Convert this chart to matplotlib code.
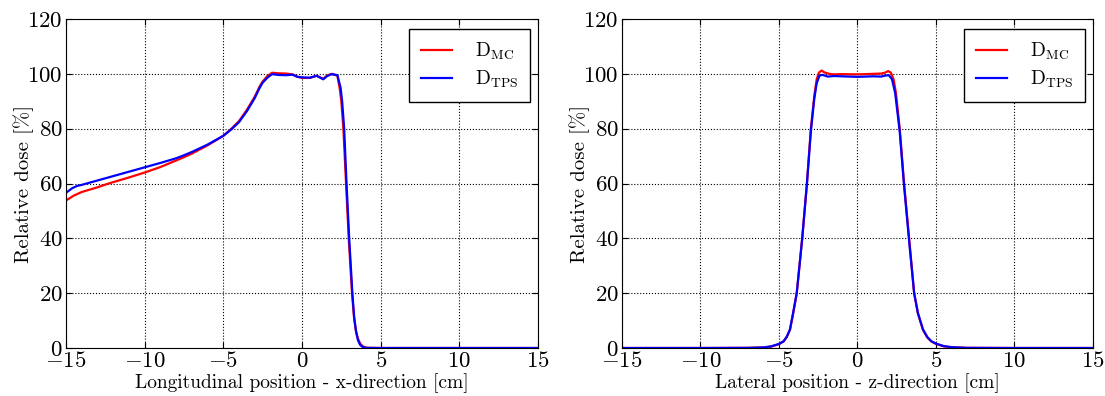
import matplotlib
matplotlib.use("Agg")
import matplotlib.pyplot as plt

# longitudinal profile (x-direction)
long_x_mc = [-15, -14.5, -14, -13, -12.5, -12, -11, -10, -9, -8, -7.5, -7, -6, -5, -4.5, -4,
             -3.5, -3, -2.7, -2.5, -2.2, -1.9, -1.5, -1, -0.6, -0.3, 0, 0.5, 0.93, 1.35, 1.6,
             1.89, 2.25, 2.4, 2.5, 2.63, 2.8, 2.97, 3.18, 3.3, 3.42, 3.55, 3.7, 3.85, 4.0, 4.2,
             5, 10, 15]
long_mc = [53.8, 55.6, 56.9, 58.6, 59.6, 60.5, 62.2, 64.0, 66.0, 68.4, 69.6, 70.9, 73.9, 77.4,
           79.9, 82.8, 86.9, 91.7, 95.3, 97.2, 99.2, 100.4, 100.2, 100.1, 99.8, 99.0, 98.5, 98.5,
           99.3, 98.2, 99.4, 100.0, 99.3, 94.5, 90.0, 80.0, 60.0, 40.0, 20.0, 11.5, 6.5, 3.5,
           1.6, 0.7, 0.25, 0.05, 0, 0, 0]
long_x_tps = [-15, -14.6, -14.3, -14, -13, -12.5, -12, -11, -10, -9, -8, -7.5, -7, -6, -5, -4.5,
              -4, -3.5, -3, -2.7, -2.5, -2.2, -1.9, -1.5, -1, -0.6, -0.3, 0, 0.5, 0.93, 1.35, 1.6,
              1.89, 2.25, 2.45, 2.55, 2.68, 2.83, 3.0, 3.2, 3.32, 3.44, 3.56, 3.7, 3.85, 4.05,
              5, 10, 15]
long_tps = [56.6, 58.3, 59.1, 59.5, 61.1, 61.9, 62.7, 64.3, 65.9, 67.5, 69.2, 70.3, 71.5, 74.2,
            77.4, 79.7, 82.4, 86.4, 91.2, 94.8, 96.8, 98.6, 99.9, 99.6, 99.5, 99.7, 98.9, 98.7,
            98.6, 99.3, 98.0, 99.2, 99.9, 99.5, 95.0, 90.0, 80.0, 60.0, 40.0, 20.0, 11.0, 5.8,
            2.8, 1.1, 0.4, 0.05, 0, 0, 0]

# lateral profile (z-direction)
lat_x_mc = [-15, -10, -7, -6, -5.5, -5, -4.7, -4.5, -4.3, -4.1, -3.87, -3.52, -3.22, -2.97,
            -2.75, -2.6, -2.45, -2.28, -2.1, -1.8, -1.5, -1, 0, 1, 1.5, 1.75, 1.95, 2.12, 2.3,
            2.45, 2.69, 2.97, 3.29, 3.61, 3.85, 4.17, 4.45, 4.7, 5, 5.5, 6, 7, 10, 15]
lat_mc = [0, 0, 0.05, 0.2, 0.5, 1.4, 2.4, 4.0, 6.6, 12.5, 20.0, 40.0, 60.0, 80.0, 92.0, 98.0,
          100.5, 101.2, 100.5, 100.0, 99.8, 99.9, 99.8, 100.0, 100.1, 100.4, 101.0, 100.5, 98.0,
          93.0, 80.0, 60.0, 40.0, 20.0, 12.5, 6.6, 3.8, 2.4, 1.5, 0.6, 0.25, 0.05, 0, 0]
lat_x_tps = [-15, -10, -7, -6, -5.5, -5, -4.7, -4.5, -4.3, -4.1, -3.87, -3.52, -3.22, -2.97,
             -2.75, -2.6, -2.42, -2.2, -1.9, -1.5, -1, 0, 1, 1.5, 1.8, 2.0, 2.2, 2.4, 2.69,
             2.97, 3.29, 3.61, 3.85, 4.17, 4.45, 4.7, 5, 5.5, 6, 7, 10, 15]
lat_tps = [0, 0, 0.05, 0.2, 0.6, 1.5, 2.5, 4.2, 6.8, 12.8, 20.0, 40.0, 60.0, 79.0, 91.0, 96.5,
           99.4, 99.6, 99.0, 99.2, 99.1, 98.9, 99.1, 99.0, 99.4, 99.5, 98.0, 93.0, 79.0, 59.0,
           39.0, 20.0, 12.8, 6.8, 4.0, 2.5, 1.6, 0.7, 0.3, 0.05, 0, 0]

plt.rcParams['font.family'] = 'serif'
plt.rcParams['font.serif'] = ['cmr10']
plt.rcParams['mathtext.fontset'] = 'cm'
plt.rcParams['axes.formatter.use_mathtext'] = True
plt.rcParams['axes.unicode_minus'] = True
plt.rcParams['xtick.direction'] = 'in'
plt.rcParams['ytick.direction'] = 'in'
plt.rcParams['xtick.top'] = True
plt.rcParams['ytick.right'] = True
plt.rcParams['font.size'] = 14

fig = plt.figure(figsize=(11.05, 3.96), dpi=100)
ax1 = fig.add_axes([0.0597, 0.1212, 0.4272, 0.8308])
ax2 = fig.add_axes([0.5629, 0.1212, 0.4262, 0.8308])

panels = [
    (ax1, long_x_mc, long_mc, long_x_tps, long_tps, 'Longitudinal position - x-direction [cm]'),
    (ax2, lat_x_mc, lat_mc, lat_x_tps, lat_tps, 'Lateral position - z-direction [cm]'),
]
for ax, xm, ym, xt, yt, xlabel in panels:
    ax.plot(xm, ym, color='red', lw=1.6, label=r'$\mathrm{D_{MC}}$')
    ax.plot(xt, yt, color='blue', lw=1.6, label=r'$\mathrm{D_{TPS}}$')
    ax.set_xlim(-15, 15)
    ax.set_ylim(0, 120)
    ax.set_xticks([-15, -10, -5, 0, 5, 10, 15])
    ax.set_yticks([0, 20, 40, 60, 80, 100, 120])
    ax.grid(True, linestyle=':', color='k', linewidth=0.8)
    ax.tick_params(length=4, width=0.8, pad=2.5, labelsize=16.5)
    ax.set_xlabel(xlabel, labelpad=1)
    ax.set_ylabel('Relative dose [%]', fontsize=15)
    ax.yaxis.set_label_coords(-0.068, 0.5)
    ax.legend(loc='upper right', bbox_to_anchor=(0.984, 0.97), borderaxespad=0,
              fancybox=False, framealpha=1, edgecolor='k', handlelength=1.6,
              borderpad=0.6, labelspacing=0.35, handletextpad=1.2)

fig.savefig('out.png', dpi=100)
